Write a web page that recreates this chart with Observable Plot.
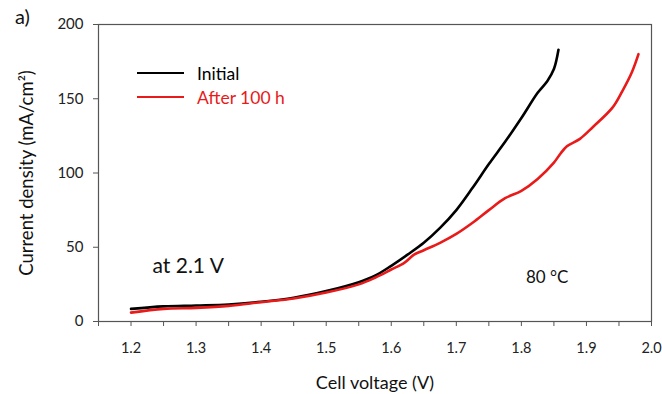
<!DOCTYPE html>
<html>
<head>
<meta charset="utf-8">
<script src="https://cdn.jsdelivr.net/npm/d3@7"></script>
<script src="https://cdn.jsdelivr.net/npm/@observablehq/plot@0.6"></script>
<style>
  body { margin: 0; background: #fff; }
  #chart { position: relative; width: 662px; height: 394px; font-family: Lato, "Open Sans", sans-serif; }
  #panel { position: absolute; left: 15px; top: 4px; font-size: 20px; color: #111; }
  .legend { position: absolute; left: 137px; top: 61px; font-size: 17.5px; }
  .legend div { display: flex; align-items: center; height: 24px; }
  .legend span.sw { display: inline-block; width: 47px; height: 2.5px; margin-right: 13px; }
</style>
</head>
<body>
<div id="chart">
  <div id="panel">a)</div>
  <div class="legend" id="legend"></div>
</div>
<script>
// Polarisation curves: cell voltage (V) vs current density (mA/cm²)
const voltageInitial = [1.20, 1.25, 1.30, 1.35, 1.40, 1.45, 1.50, 1.55, 1.575, 1.60, 1.625, 1.65, 1.675, 1.70, 1.725, 1.75, 1.775, 1.80, 1.825, 1.84, 1.85, 1.857];
const currentInitial = [8.5, 10.2, 10.8, 11.5, 13.3, 16.0, 20.5, 26.5, 30.8, 37.5, 45, 53, 63, 75, 90, 106, 121, 137, 154, 162, 170, 183];

const voltageAfter = [1.20, 1.25, 1.30, 1.35, 1.40, 1.45, 1.50, 1.55, 1.575, 1.60, 1.62, 1.635, 1.65, 1.675, 1.70, 1.725, 1.75, 1.775, 1.80, 1.825, 1.85, 1.86, 1.87, 1.89, 1.91, 1.94, 1.955, 1.97, 1.98];
const currentAfter = [6, 8.5, 9.2, 10.5, 13, 15.5, 19.5, 25, 29.5, 35, 39.5, 45, 48, 53, 59, 66.5, 75, 83, 88, 96, 107, 113, 118, 123, 131, 144, 155, 168, 180];

const seriesNames = ["Initial", "After 100 h"];
const seriesColors = ["#000000", "#e81a1a"];

const xTicks = [1.15, 1.2, 1.25, 1.3, 1.35, 1.4, 1.45, 1.5, 1.55, 1.6, 1.65, 1.7, 1.75, 1.8, 1.85, 1.9, 1.95, 2.0];
const xTickLabels = ["", "1.2", "", "1.3", "", "1.4", "", "1.5", "", "1.6", "", "1.7", "", "1.8", "", "1.9", "", "2.0"];
const yTicks = [0, 50, 100, 150, 200];

const xTitle = "Cell voltage (V)";
const yTitle = "Current density (mA/cm²)";

const rows = [
  ...voltageInitial.map((v, i) => ({series: seriesNames[0], v, j: currentInitial[i]})),
  ...voltageAfter.map((v, i) => ({series: seriesNames[1], v, j: currentAfter[i]}))
];

const axisColor = "#555";

const plot = Plot.plot({
  width: 662,
  height: 394,
  marginLeft: 98,
  marginRight: 11,
  marginTop: 24,
  marginBottom: 73,
  style: { fontFamily: "Lato, 'Open Sans', sans-serif", fontSize: "14px", color: "#222", background: "transparent", overflow: "visible" },
  x: { domain: [1.15, 2.0] },
  y: { domain: [0, 200] },
  color: { domain: seriesNames, range: seriesColors },
  marks: [
    Plot.frame({ stroke: axisColor, strokeWidth: 1.2 }),
    Plot.axisX({
      ticks: xTicks,
      tickSize: 5,
      tickPadding: 16,
      stroke: axisColor,
      tickFormat: d => xTickLabels[xTicks.findIndex(t => Math.abs(t - d) < 1e-9)],
      label: null,
      fontSize: 14.5
    }),
    Plot.axisY({
      ticks: yTicks,
      tickSize: 5,
      tickPadding: 10,
      stroke: axisColor,
      label: null,
      fontSize: 15
    }),
    // axis titles, placed in the margins relative to the frame
    Plot.text([xTitle], { frameAnchor: "bottom", dy: 67, text: d => d, textAnchor: "middle", fontSize: 18, fill: "#111" }),
    Plot.text([yTitle], { frameAnchor: "left", dx: -71, rotate: -90, text: d => d, textAnchor: "middle", fontSize: 18.5, fill: "#111" }),
    Plot.line(rows, { x: "v", y: "j", z: "series", stroke: "series", strokeWidth: 2.6, curve: "catmull-rom" }),
    Plot.text(["at 2.1 V"], { x: 1.233, y: 37, text: d => d, textAnchor: "start", fontSize: 21, fill: "#111" }),
    Plot.text(["80 °C"], { x: 1.807, y: 29.5, text: d => d, textAnchor: "start", fontSize: 17, fill: "#111" })
  ]
});

plot.style.position = "absolute";
plot.style.left = "0";
plot.style.top = "0";
document.getElementById("chart").prepend(plot);

const legend = document.getElementById("legend");
seriesNames.forEach((name, i) => {
  const row = document.createElement("div");
  const sw = document.createElement("span");
  sw.className = "sw";
  sw.style.background = seriesColors[i];
  const label = document.createElement("span");
  label.textContent = name;
  label.style.color = seriesColors[i];
  row.append(sw, label);
  legend.append(row);
});
</script>
</body>
</html>
